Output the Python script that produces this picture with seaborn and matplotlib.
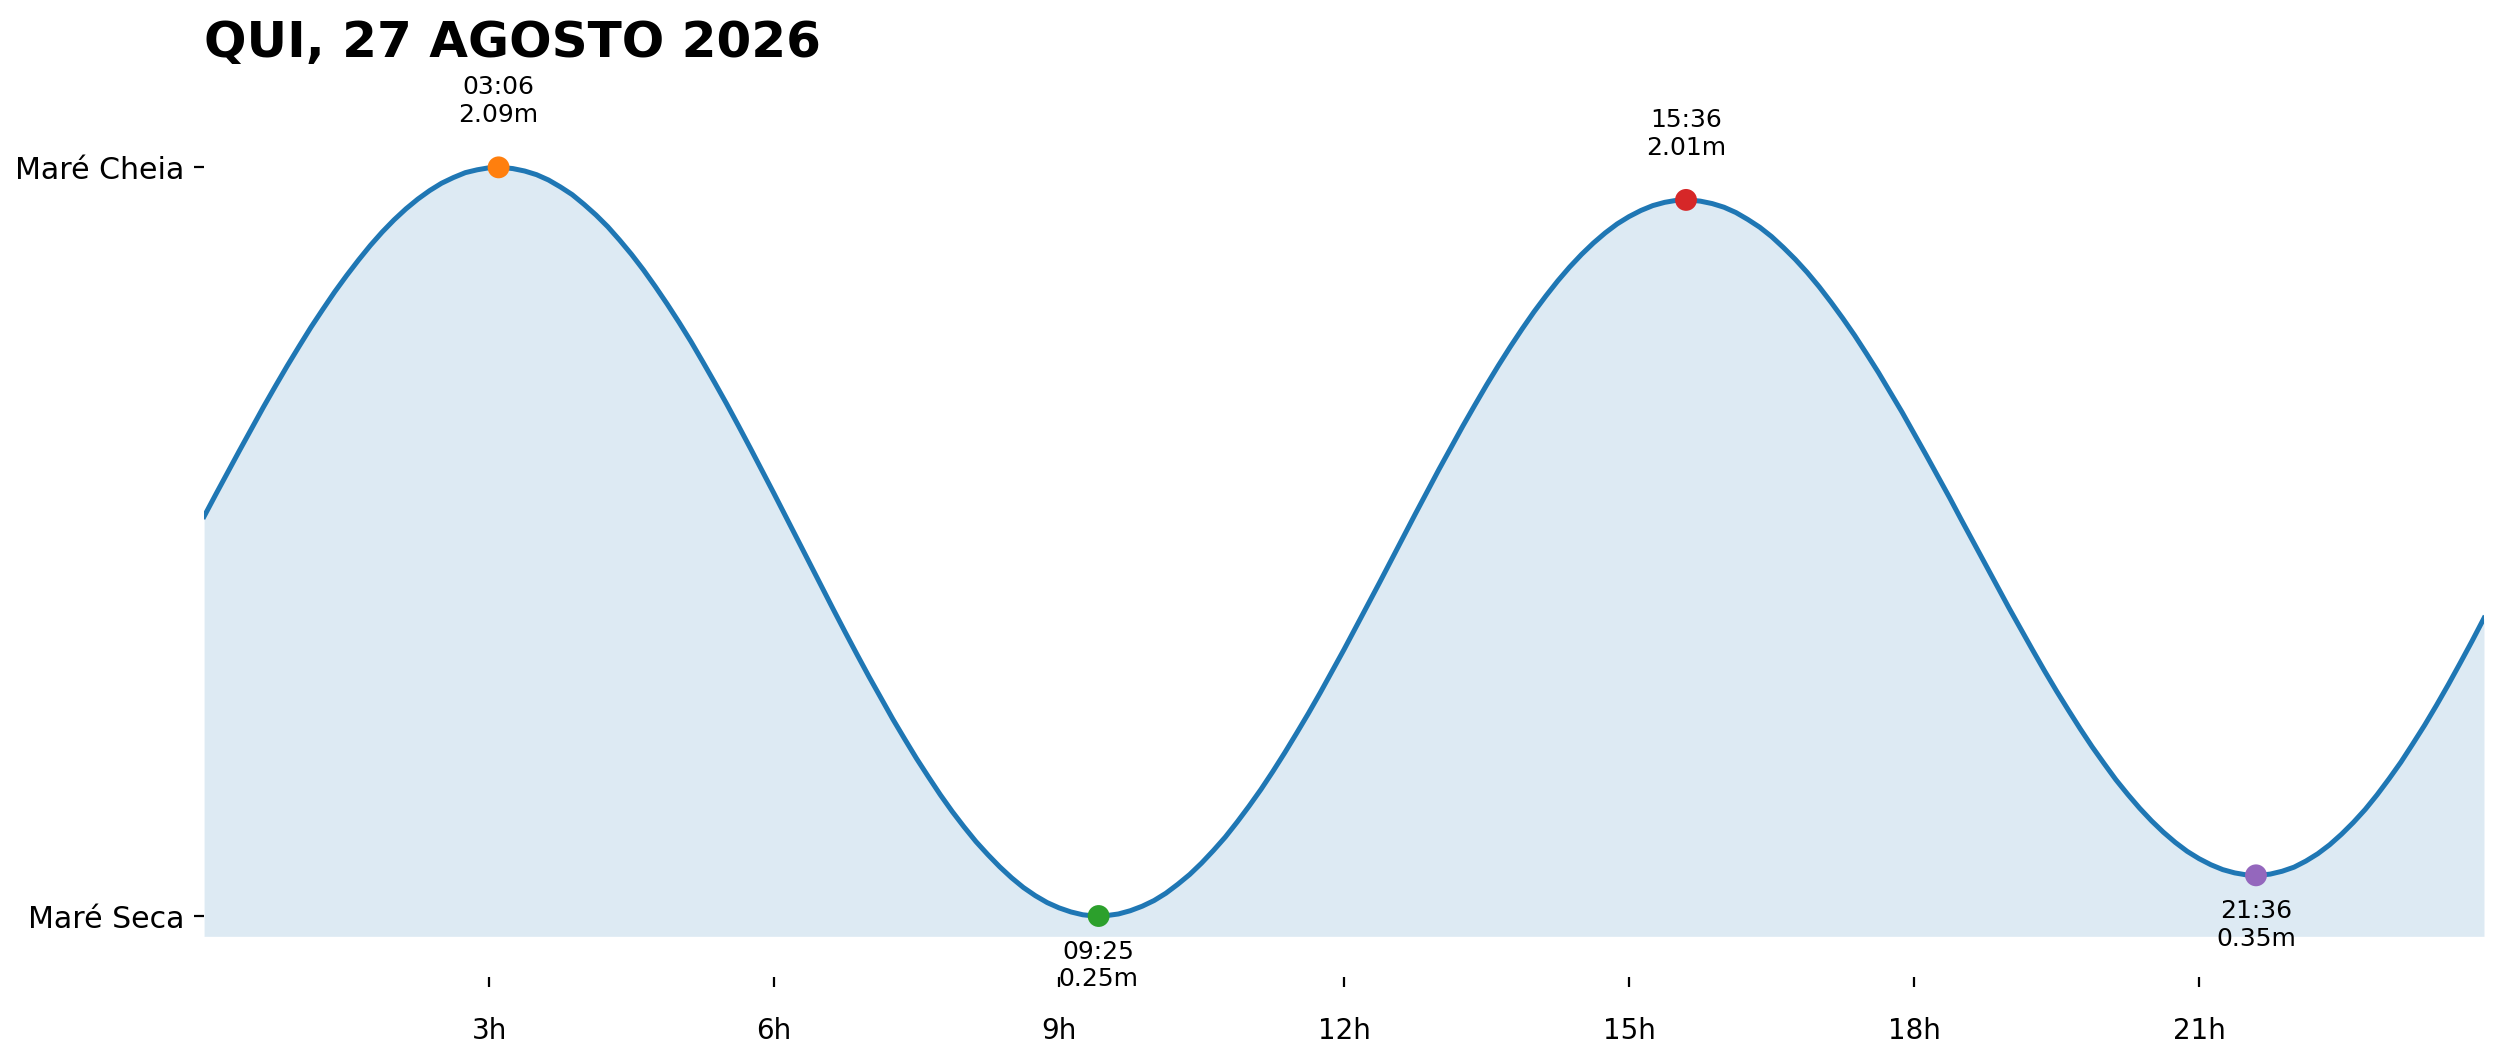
import pandas as pd
import matplotlib
matplotlib.use("Agg")
import matplotlib.pyplot as plt
import seaborn as sns

# ---- data ----
title = "QUI, 27 AGOSTO 2026"

# tide curve: hour of the day -> height (m)
times = [
    0.0, 0.125, 0.25, 0.375, 0.5, 0.625, 0.75, 0.875,
    1.0, 1.125, 1.25, 1.375, 1.5, 1.625, 1.75, 1.875,
    2.0, 2.125, 2.25, 2.375, 2.5, 2.625, 2.75, 2.875,
    3.0, 3.1, 3.125, 3.25, 3.375, 3.5, 3.625, 3.75, 3.875,
    4.0, 4.125, 4.25, 4.375, 4.5, 4.625, 4.75, 4.875,
    5.0, 5.125, 5.25, 5.375, 5.5, 5.625, 5.75, 5.875,
    6.0, 6.125, 6.25, 6.375, 6.5, 6.625, 6.75, 6.875,
    7.0, 7.125, 7.25, 7.375, 7.5, 7.625, 7.75, 7.875,
    8.0, 8.125, 8.25, 8.375, 8.5, 8.625, 8.75, 8.875,
    9.0, 9.125, 9.25, 9.375, 9.4167, 9.5, 9.625, 9.75, 9.875,
    10.0, 10.125, 10.25, 10.375, 10.5, 10.625, 10.75, 10.875,
    11.0, 11.125, 11.25, 11.375, 11.5, 11.625, 11.75, 11.875,
    12.0, 12.125, 12.25, 12.375, 12.5, 12.625, 12.75, 12.875,
    13.0, 13.125, 13.25, 13.375, 13.5, 13.625, 13.75, 13.875,
    14.0, 14.125, 14.25, 14.375, 14.5, 14.625, 14.75, 14.875,
    15.0, 15.125, 15.25, 15.375, 15.5, 15.6, 15.625, 15.75, 15.875,
    16.0, 16.125, 16.25, 16.375, 16.5, 16.625, 16.75, 16.875,
    17.0, 17.125, 17.25, 17.375, 17.5, 17.625, 17.75, 17.875,
    18.0, 18.125, 18.25, 18.375, 18.5, 18.625, 18.75, 18.875,
    19.0, 19.125, 19.25, 19.375, 19.5, 19.625, 19.75, 19.875,
    20.0, 20.125, 20.25, 20.375, 20.5, 20.625, 20.75, 20.875,
    21.0, 21.125, 21.25, 21.375, 21.5, 21.6, 21.625, 21.75, 21.875,
    22.0, 22.125, 22.25, 22.375, 22.5, 22.625, 22.75, 22.875,
    23.0, 23.125, 23.25, 23.375, 23.5, 23.625, 23.75, 23.875,
    24.0,
]
heights = [
    1.232, 1.287, 1.341, 1.395, 1.448, 1.501, 1.552, 1.602, 1.650, 1.697, 1.741, 1.784,
    1.824, 1.862, 1.898, 1.931, 1.961, 1.988, 2.012, 2.033, 2.051, 2.065, 2.077, 2.084,
    2.089, 2.090, 2.090, 2.087, 2.081, 2.072, 2.059, 2.042, 2.023, 1.999, 1.973, 1.944,
    1.911, 1.876, 1.838, 1.797, 1.754, 1.709, 1.662, 1.612, 1.561, 1.509, 1.455, 1.400,
    1.344, 1.288, 1.231, 1.174, 1.117, 1.060, 1.003, .947, .892, .838, .786, .734,
    .685, .637, .592, .548, .507, .469, .433, .401, .371, .344, .320, .300,
    .283, .270, .260, .253, .250, .250, .251, .255, .263, .274, .288, .306,
    .328, .352, .380, .411, .444, .481, .520, .561, .605, .651, .699, .748,
    .799, .852, .905, .960, 1.015, 1.070, 1.126, 1.182, 1.238, 1.293, 1.348, 1.401,
    1.454, 1.505, 1.555, 1.603, 1.649, 1.693, 1.735, 1.774, 1.811, 1.845, 1.876, 1.904,
    1.929, 1.951, 1.969, 1.984, 1.996, 2.004, 2.009, 2.010, 2.010, 2.007, 2.001, 1.992,
    1.979, 1.962, 1.943, 1.920, 1.893, 1.864, 1.832, 1.797, 1.759, 1.719, 1.677, 1.632,
    1.586, 1.537, 1.488, 1.436, 1.384, 1.331, 1.278, 1.223, 1.169, 1.115, 1.061, 1.007,
    .955, .903, .852, .803, .756, .710, .666, .625, .585, .549, .515, .484,
    .456, .431, .409, .391, .376, .364, .356, .351, .350, .350, .353, .360,
    .370, .385, .403, .425, .451, .480, .512, .548, .587, .628, .673, .719,
    .768, .819, .872, .926, .982,
]
assert len(times) == len(heights)

# tide extremes
ext_times = [3.1, 9.4167, 15.6, 21.6]
ext_labels = ["03:06", "09:25", "15:36", "21:36"]
ext_heights = [2.09, 0.25, 2.01, 0.35]
ext_kinds = ["high", "low", "high", "low"]
ext_colors = ["#ff7f0e", "#2ca02c", "#d62728", "#9467bd"]

# axis ticks
x_ticks = [3, 6, 9, 12, 15, 18, 21]
x_ticklabels = ["3h", "6h", "9h", "12h", "15h", "18h", "21h"]
y_ticklabels = ["Maré Seca", "Maré Cheia"]

# ---- figure ----
line_color = "#1f77b4"
fig = plt.figure(figsize=(12.505, 5.31), dpi=200)
ax = fig.add_axes([0.0816, 0.0800, 0.9116, 0.8467])

curve = pd.DataFrame({"hora": times, "altura": heights})
low_min = min(ext_heights)
high_max = max(ext_heights)

ax.fill_between(curve["hora"], curve["altura"], low_min - 0.05,
                color=line_color, alpha=0.15, linewidth=0, zorder=1)
sns.lineplot(data=curve, x="hora", y="altura", color=line_color,
             linewidth=1.8, ax=ax, zorder=2)

ext = pd.DataFrame({"hora": ext_times, "altura": ext_heights, "label": ext_labels})
sns.scatterplot(data=ext, x="hora", y="altura", hue="label", palette=ext_colors,
                s=62, linewidth=0, legend=False, ax=ax, zorder=3)

for t, lab, h, kind in zip(ext_times, ext_labels, ext_heights, ext_kinds):
    if kind == "high":
        ax.annotate(f"{lab}\n{h:.2f}m", (t, h), xytext=(0, 14.5),
                    textcoords="offset points", ha="center", va="bottom", fontsize=9)
    else:
        ax.annotate(f"{lab}\n{h:.2f}m", (t, h), xytext=(0, -8.5),
                    textcoords="offset points", ha="center", va="top", fontsize=9)

ax.set_xlim(0, 24)
ax.set_ylim(low_min - 0.15, high_max + 0.22)
ax.set_xticks(x_ticks)
ax.set_xticklabels(x_ticklabels)
ax.set_yticks([low_min, high_max])
ax.set_yticklabels(y_ticklabels)
ax.tick_params(axis="x", pad=10.8, labelsize=10)
ax.tick_params(axis="y", labelsize=10.8)
ax.set_xlabel("")
ax.set_ylabel("")
for s in ax.spines.values():
    s.set_visible(False)

ax.set_title(title, loc="left", fontsize=18, fontweight="bold", pad=7.5)

fig.savefig("out.png", dpi=200)
